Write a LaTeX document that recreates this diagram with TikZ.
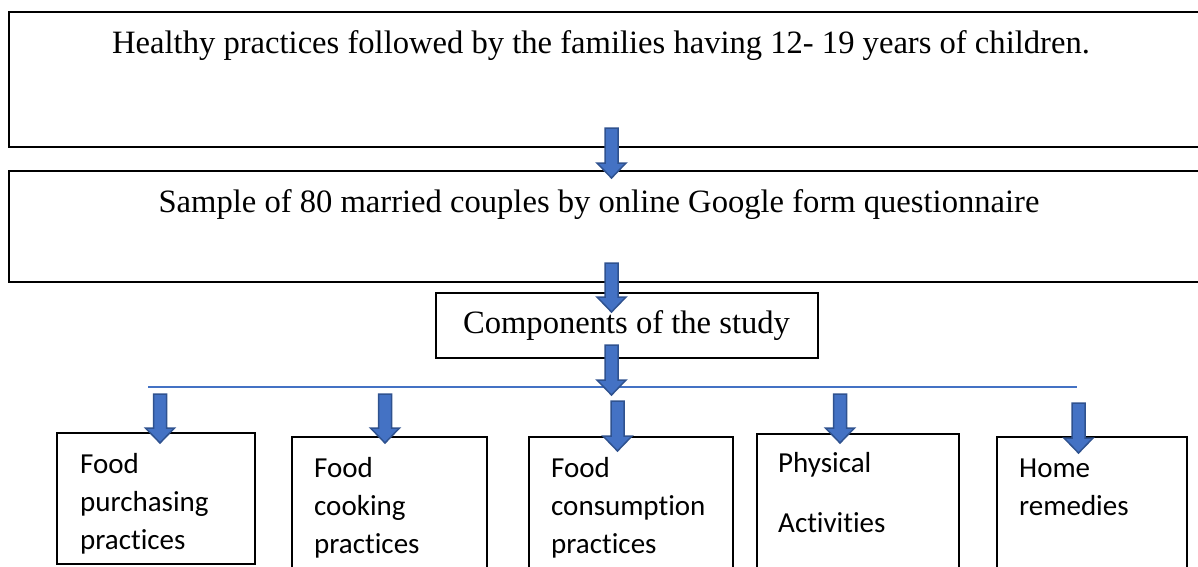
\documentclass[tikz,border=0pt]{standalone}
\usepackage{fontspec}
\setmainfont{Liberation Serif}
\newfontfamily\calibri[RawFeature={-liga}]{Carlito}
\usetikzlibrary{calc}

\definecolor{arrowblue}{HTML}{4472C4}
\definecolor{arrowedge}{HTML}{2F528F}

\tikzset{
  box/.style={draw, line width=2pt, inner sep=0pt},
  arrowbody/.style={fill=arrowblue, draw=arrowedge, line width=1.5pt, line join=miter},
  serifline/.style={font=\fontsize{32.6}{38}\selectfont, inner sep=0pt, anchor=base},
  item/.style={font=\calibri\fontsize{29}{38}\selectfont, inner sep=0pt,
    anchor=base west, align=left, text width=170pt},
}

% block arrow pointing down, from shaft top #1 to tip #2
\newcommand\blockarrow[2]{%
  \path[arrowbody] let \p1=(#1), \p2=(#2) in
    (\x1-6.5pt,\y1) -- (\x1+6.5pt,\y1) -- (\x1+6.5pt,\y2+15pt)
    -- (\x1+14.5pt,\y2+15pt) -- (\x1,\y2) -- (\x1-14.5pt,\y2+15pt)
    -- (\x1-6.5pt,\y2+15pt) -- cycle;
}

\begin{document}
\begin{tikzpicture}[x=1pt, y=-1pt]
    \useasboundingbox (0,0) rectangle (1198,566);
    \clip (0,0) rectangle (1198,566);

    % Wide boxes
    \node[box, minimum width=1201pt, minimum height=135pt] (goal) at (609.5,79.5) {};
    \node[serifline] (goaltext) at (601,53)
        {Healthy practices followed by the families having 12- 19 years of children.};
    \node[box, minimum width=1201pt, minimum height=111pt] (sample) at (609.5,226.5) {};
    \node[serifline] (sampletext) at (599,212)
        {Sample of 80 married couples by online Google form questionnaire};
    \node[box, minimum width=382pt, minimum height=65pt] (comp) at (627,325.5) {};
    \node[serifline] (comptext) at (626.5,333) {Components of the study};

    % Branch line
    \coordinate (branchwest) at (148,387);
    \coordinate (brancheast) at (1077,387);
    \draw[arrowblue, line width=1.2pt] (branchwest) -- (brancheast);

    % Component boxes
    \node[box, minimum width=198pt, minimum height=131pt] (purchase) at (156,498.5) {};
    \node[box, minimum width=195pt, minimum height=143pt] (cooking) at (389.5,508.5) {};
    \node[box, minimum width=204pt, minimum height=143pt] (consume) at (631,508.5) {};
    \node[box, minimum width=202pt, minimum height=146pt] (physical) at (858,507) {};
    \node[box, minimum width=190pt, minimum height=143pt] (remedy) at (1092,508.5) {};

    \node[item] at (80,473) {Food\\purchasing\\practices};
    \node[item] at (314,477) {Food\\cooking\\practices};
    \node[item] at (551,477) {Food\\consumption\\practices};
    \node[item] at (778,472) {Physical\\[22pt]Activities};
    \node[item] at (1019,477) {Home\\remedies};

    % Arrows
    \coordinate (goalout) at (611.5,128);
    \coordinate (samplein) at (611.5,178);
    \coordinate (sampleout) at (611.5,263);
    \coordinate (compin) at (611.5,312);
    \coordinate (compout) at (611.5,345);
    \coordinate (branchin) at (611.5,395);
    \coordinate (purchasetop) at (160,394);
    \coordinate (purchasein) at (160,443);
    \coordinate (cookingtop) at (385,394);
    \coordinate (cookingin) at (385,443);
    \coordinate (consumetop) at (617.5,401);
    \coordinate (consumein) at (617.5,451);
    \coordinate (physicaltop) at (840,394);
    \coordinate (physicalin) at (840,443);
    \coordinate (remedytop) at (1078.5,403);
    \coordinate (remedyin) at (1078.5,453);

    \blockarrow{goalout}{samplein}
    \blockarrow{sampleout}{compin}
    \blockarrow{compout}{branchin}
    \blockarrow{purchasetop}{purchasein}
    \blockarrow{cookingtop}{cookingin}
    \blockarrow{consumetop}{consumein}
    \blockarrow{physicaltop}{physicalin}
    \blockarrow{remedytop}{remedyin}

\end{tikzpicture}
\end{document}
